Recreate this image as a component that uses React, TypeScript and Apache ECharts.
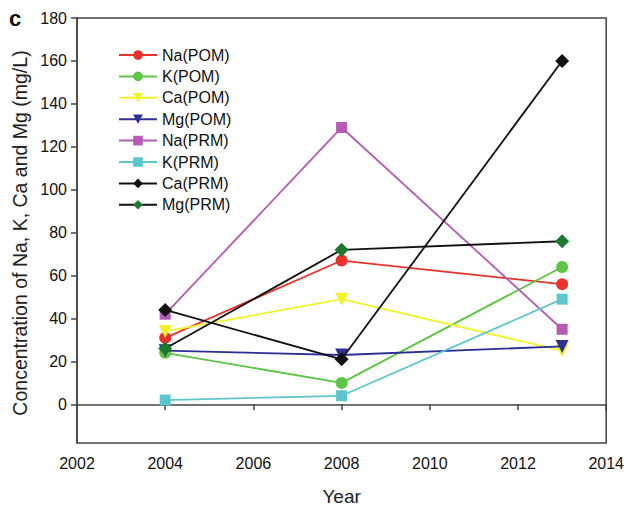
import React, { useEffect, useRef } from "react";
import * as echarts from "echarts";

const years = [2004, 2008, 2013];
const naPOM = [31, 67, 56];
const kPOM = [24, 10, 64];
const caPOM = [34, 49, 25];
const mgPOM = [25, 23, 27];
const naPRM = [42, 129, 35];
const kPRM = [2, 4, 49];
const caPRM = [44, 21, 160];
const mgPRM = [26, 72, 76];

const seriesNames = ["Na(POM)", "K(POM)", "Ca(POM)", "Mg(POM)", "Na(PRM)", "K(PRM)", "Ca(PRM)", "Mg(PRM)"];
const seriesValues = [naPOM, kPOM, caPOM, mgPOM, naPRM, kPRM, caPRM, mgPRM];
const yTicks = [0, 20, 40, 60, 80, 100, 120, 140, 160, 180];

const styles = [
  { line: "#e8322b", mark: "#e8322b", symbol: "circle", size: 12, rot: 0 },
  { line: "#5cc544", mark: "#5cc544", symbol: "circle", size: 12, rot: 0 },
  { line: "#f2f22a", mark: "#f2f22a", symbol: "triangle", size: 13, rot: 180 },
  { line: "#2c2f95", mark: "#2c2f95", symbol: "triangle", size: 13, rot: 180 },
  { line: "#b55bb5", mark: "#b55bb5", symbol: "rect", size: 11, rot: 0 },
  { line: "#5cc6cc", mark: "#5cc6cc", symbol: "rect", size: 11, rot: 0 },
  { line: "#111111", mark: "#111111", symbol: "diamond", size: 14, rot: 0 },
  { line: "#111111", mark: "#1c7a30", symbol: "diamond", size: 14, rot: 0 },
];

const FONT = "Liberation Sans, Arial, sans-serif";

export default function App() {
  const ref = useRef<HTMLDivElement>(null);
  useEffect(() => {
    document.body.style.margin = "0";
    const chart = echarts.init(ref.current!, null, { renderer: "svg" });
    chart.setOption({
      animation: false,
      backgroundColor: "#ffffff",
      textStyle: { fontFamily: FONT },
      grid: {
        left: 77,
        top: 18,
        right: 15,
        bottom: 68,
        show: true,
        borderColor: "#444",
        borderWidth: 1.5,
        backgroundColor: "transparent",
      },
      legend: {
        orient: "vertical",
        left: 113,
        top: 42,
        itemWidth: 38,
        itemHeight: 12,
        itemGap: 5.4,
        textStyle: { fontSize: 16, color: "#111", fontFamily: FONT },
        data: seriesNames,
      },
      graphic: [
        {
          type: "text",
          left: 9,
          top: 7,
          style: { text: "c", font: "bold 22px " + FONT, fill: "#111" },
        },
        {
          type: "text",
          x: 20,
          y: 233,
          rotation: Math.PI / 2,
          style: {
            text: "Concentration of Na, K, Ca and Mg (mg/L)",
            font: "19.5px " + FONT,
            fill: "#222",
            textAlign: "center",
            textVerticalAlign: "middle",
          },
        },
      ],
      xAxis: {
        type: "value",
        min: 2002,
        max: 2014,
        interval: 2,
        name: "Year",
        nameLocation: "middle",
        nameGap: 44,
        nameTextStyle: { fontSize: 19, color: "#222", fontFamily: FONT },
        axisLine: { lineStyle: { color: "#444", width: 1.5 } },
        axisTick: { length: 6, lineStyle: { color: "#444", width: 1.5 } },
        axisLabel: { fontSize: 16, color: "#111", margin: 12, fontFamily: FONT, formatter: (v: number) => String(v) },
        splitLine: { show: false },
      },
      yAxis: {
        type: "value",
        min: -18,
        max: 180,
        axisLine: { lineStyle: { color: "#444", width: 1.5 } },
        axisTick: { length: 6, customValues: yTicks, lineStyle: { color: "#444", width: 1.5 } },
        axisLabel: { fontSize: 16, color: "#111", margin: 10, customValues: yTicks, fontFamily: FONT },
        splitLine: { show: false },
      },
      series: seriesNames.map((name, i) => ({
        name,
        type: "line",
        data: years.map((y, j) => [y, seriesValues[i][j]]),
        symbol: styles[i].symbol,
        symbolSize: styles[i].size,
        symbolRotate: styles[i].rot,
        lineStyle: { color: styles[i].line, width: 1.8 },
        itemStyle: { color: styles[i].mark, borderWidth: 0 },
        z: 2 + i,
      })),
    });
    return () => chart.dispose();
  }, []);
  return <div ref={ref} style={{ width: 627, height: 511 }} />;
}
